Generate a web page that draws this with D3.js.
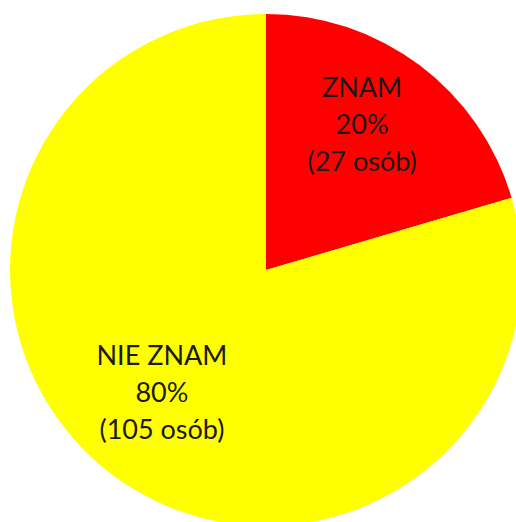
<!DOCTYPE html>
<html>
<head>
<meta charset="utf-8">
<script src="https://cdn.jsdelivr.net/npm/d3@7"></script>
<style>
  html, body { margin: 0; padding: 0; background: #fff; }
  svg { display: block; }
  .lbl { font-family: Lato, "Open Sans", sans-serif; font-size: 27px; fill: #1a1a1a; }
</style>
</head>
<body>
<svg id="chart" width="516" height="522"></svg>
<script>
// dane
var categories = ["ZNAM", "NIE ZNAM"];
var counts = [27, 105];
var percents = ["20%", "80%"];
var colors = ["#ff0000", "#ffff00"];

var svg = d3.select("#chart"),
    cx = 266, cy = 270, radius = 256;

var g = svg.append("g").attr("transform", "translate(" + cx + "," + cy + ")");

var data = categories.map(function (c, i) {
  return { name: c, count: counts[i], pct: percents[i], color: colors[i] };
});

var pie = d3.pie().sort(null).value(function (d) { return d.count; });
var arc = d3.arc().innerRadius(0).outerRadius(radius);
var labelArc = d3.arc().innerRadius(167).outerRadius(167);

var slices = g.selectAll(".slice")
  .data(pie(data))
  .enter().append("g")
  .attr("class", "slice");

slices.append("path")
  .attr("d", arc)
  .attr("fill", function (d) { return d.data.color; });

// etykiety
slices.each(function (d) {
  var c = labelArc.centroid(d);
  var t = d3.select(this).append("text")
    .attr("class", "lbl")
    .attr("text-anchor", "middle")
    .attr("transform", "translate(" + (c[0] - 4) + "," + (c[1] - 11) + ")");
  var lines = [d.data.name, d.data.pct, "(" + d.data.count + " osób)"];
  lines.forEach(function (l, i) {
    t.append("tspan").attr("x", 0).attr("y", (i - 1) * 37 + 9).text(l);
  });
});
</script>
</body>
</html>
